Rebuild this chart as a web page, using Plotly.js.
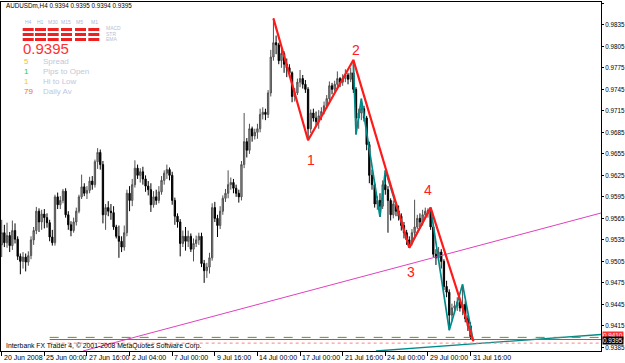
<!DOCTYPE html>
<html><head><meta charset="utf-8">
<script src="https://cdn.plot.ly/plotly-3.0.1.min.js"></script>
<style>html,body{margin:0;padding:0;background:#fff}#c{width:625px;height:363px}</style>
</head><body><div id="c"></div>
<script>
// ---- data ----
const openP = [0.9528,0.9545,0.9531,0.9541,0.9527,0.9548,0.9536,0.9512,0.9505,0.9511,0.9504,0.9513,0.9535,0.9548,0.9575,0.9560,0.9571,0.9566,0.9559,0.9539,
0.9531,0.9595,0.9584,0.9590,0.9603,0.9570,0.9556,0.9548,0.9560,0.9575,0.9595,0.9609,0.9600,0.9604,0.9617,0.9612,0.9644,0.9657,0.9640,0.9570,
0.9580,0.9575,0.9573,0.9553,0.9540,0.9533,0.9525,0.9545,0.9600,0.9590,0.9612,0.9635,0.9625,0.9630,0.9620,0.9610,0.9605,0.9584,0.9595,0.9590,
0.9602,0.9618,0.9628,0.9633,0.9625,0.9590,0.9568,0.9560,0.9530,0.9540,0.9533,0.9540,0.9522,0.9530,0.9535,0.9540,0.9502,0.9492,0.9497,0.9510,
0.9580,0.9565,0.9555,0.9575,0.9593,0.9600,0.9612,0.9615,0.9607,0.9600,0.9595,0.9640,0.9672,0.9660,0.9690,0.9680,0.9685,0.9690,0.9710,0.9713,
0.9710,0.9740,0.9790,0.9810,0.9807,0.9785,0.9795,0.9780,0.9775,0.9768,0.9735,0.9740,0.9755,0.9760,0.9752,0.9745,0.9690,0.9712,0.9705,0.9700,
0.9708,0.9714,0.9722,0.9732,0.9750,0.9745,0.9752,0.9760,0.9755,0.9760,0.9765,0.9759,0.9768,0.9745,0.9705,0.9712,0.9718,0.9705,0.9668,0.9625,
0.9612,0.9585,0.9590,0.9582,0.9612,0.9605,0.9590,0.9570,0.9585,0.9575,0.9568,0.9555,0.9545,0.9535,0.9530,0.9545,0.9553,0.9565,0.9560,0.9570,
0.9575,0.9576,0.9553,0.9515,0.9510,0.9518,0.9505,0.9470,0.9462,0.9430,0.9440,0.9443,0.9448,0.9440,0.9445,0.9425,0.9415,0.9394];
const highP = [0.9563,0.9556,0.9559,0.9546,0.9562,0.9558,0.9540,0.9516,0.9518,0.9516,0.9519,0.9540,0.9553,0.9581,0.9579,0.9577,0.9578,0.9572,0.9563,0.9549,
0.9598,0.9601,0.9596,0.9606,0.9607,0.9575,0.9561,0.9566,0.9580,0.9598,0.9626,0.9614,0.9610,0.9623,0.9624,0.9647,0.9663,0.9661,0.9645,0.9585,
0.9589,0.9585,0.9582,0.9556,0.9555,0.9540,0.9555,0.9605,0.9610,0.9620,0.9646,0.9640,0.9635,0.9637,0.9625,0.9617,0.9614,0.9603,0.9605,0.9610,
0.9624,0.9632,0.9640,0.9636,0.9630,0.9594,0.9572,0.9564,0.9548,0.9553,0.9548,0.9544,0.9537,0.9541,0.9545,0.9545,0.9507,0.9503,0.9517,0.9586,
0.9588,0.9570,0.9582,0.9597,0.9606,0.9632,0.9622,0.9620,0.9612,0.9605,0.9645,0.9712,0.9677,0.9697,0.9693,0.9690,0.9697,0.9718,0.9720,0.9718,
0.9744,0.9800,0.9844,0.9820,0.9810,0.9802,0.9798,0.9788,0.9780,0.9770,0.9747,0.9760,0.9772,0.9765,0.9758,0.9748,0.9717,0.9718,0.9714,0.9716,
0.9720,0.9728,0.9737,0.9756,0.9754,0.9757,0.9770,0.9762,0.9766,0.9773,0.9768,0.9775,0.9786,0.9748,0.9718,0.9732,0.9722,0.9708,0.9672,0.9633,
0.9615,0.9596,0.9600,0.9618,0.9632,0.9610,0.9593,0.9590,0.9588,0.9583,0.9572,0.9560,0.9549,0.9540,0.9550,0.9591,0.9570,0.9572,0.9577,0.9580,
0.9579,0.9580,0.9556,0.9522,0.9525,0.9522,0.9508,0.9478,0.9466,0.9446,0.9450,0.9455,0.9452,0.9473,0.9450,0.9430,0.9420,0.9395];
const lowP = [0.9511,0.9525,0.9524,0.9518,0.9521,0.9530,0.9507,0.9487,0.9495,0.9491,0.9499,0.9508,0.9528,0.9543,0.9546,0.9549,0.9551,0.9552,0.9533,0.9527,
0.9527,0.9578,0.9578,0.9586,0.9566,0.9549,0.9540,0.9545,0.9555,0.9572,0.9592,0.9596,0.9592,0.9600,0.9605,0.9608,0.9634,0.9633,0.9558,0.9549,
0.9568,0.9563,0.9549,0.9537,0.9510,0.9518,0.9520,0.9540,0.9575,0.9582,0.9608,0.9620,0.9615,0.9612,0.9602,0.9597,0.9574,0.9580,0.9584,0.9586,
0.9598,0.9612,0.9620,0.9618,0.9584,0.9556,0.9552,0.9512,0.9525,0.9520,0.9525,0.9518,0.9505,0.9525,0.9528,0.9497,0.9475,0.9482,0.9488,0.9506,
0.9560,0.9539,0.9550,0.9570,0.9588,0.9593,0.9605,0.9600,0.9595,0.9587,0.9590,0.9635,0.9650,0.9655,0.9672,0.9675,0.9676,0.9685,0.9703,0.9702,
0.9705,0.9735,0.9785,0.9794,0.9780,0.9775,0.9768,0.9762,0.9762,0.9727,0.9728,0.9737,0.9748,0.9746,0.9740,0.9674,0.9684,0.9700,0.9693,0.9690,
0.9702,0.9710,0.9718,0.9728,0.9738,0.9741,0.9745,0.9748,0.9750,0.9755,0.9752,0.9755,0.9740,0.9682,0.9690,0.9702,0.9700,0.9660,0.9614,0.9605,
0.9580,0.9577,0.9567,0.9578,0.9598,0.9545,0.9562,0.9565,0.9568,0.9562,0.9548,0.9537,0.9528,0.9524,0.9527,0.9540,0.9550,0.9553,0.9555,0.9565,
0.9566,0.9549,0.9511,0.9500,0.9505,0.9495,0.9465,0.9455,0.9409,0.9423,0.9432,0.9436,0.9435,0.9430,0.9420,0.9408,0.9396,0.9394];
const closeP = [0.9545,0.9531,0.9541,0.9527,0.9548,0.9536,0.9512,0.9505,0.9511,0.9504,0.9513,0.9535,0.9548,0.9575,0.9560,0.9571,0.9566,0.9559,0.9539,0.9531,
0.9595,0.9584,0.9590,0.9603,0.9570,0.9556,0.9548,0.9560,0.9575,0.9595,0.9609,0.9600,0.9604,0.9617,0.9612,0.9644,0.9657,0.9640,0.9570,0.9580,
0.9575,0.9573,0.9553,0.9540,0.9533,0.9525,0.9545,0.9600,0.9590,0.9612,0.9635,0.9625,0.9630,0.9620,0.9610,0.9605,0.9584,0.9595,0.9590,0.9602,
0.9618,0.9628,0.9633,0.9625,0.9590,0.9568,0.9560,0.9530,0.9540,0.9533,0.9540,0.9522,0.9530,0.9535,0.9540,0.9502,0.9492,0.9497,0.9510,0.9580,
0.9565,0.9555,0.9575,0.9593,0.9600,0.9612,0.9615,0.9607,0.9600,0.9595,0.9640,0.9672,0.9660,0.9690,0.9680,0.9685,0.9690,0.9710,0.9713,0.9710,
0.9740,0.9790,0.9810,0.9807,0.9785,0.9795,0.9780,0.9775,0.9768,0.9735,0.9740,0.9755,0.9760,0.9752,0.9745,0.9690,0.9712,0.9705,0.9700,0.9708,
0.9714,0.9722,0.9732,0.9750,0.9745,0.9752,0.9760,0.9755,0.9760,0.9765,0.9759,0.9768,0.9745,0.9705,0.9712,0.9718,0.9705,0.9668,0.9625,0.9612,
0.9585,0.9590,0.9582,0.9612,0.9605,0.9590,0.9570,0.9585,0.9575,0.9568,0.9555,0.9545,0.9535,0.9530,0.9545,0.9553,0.9565,0.9560,0.9570,0.9575,
0.9576,0.9553,0.9515,0.9510,0.9518,0.9505,0.9470,0.9462,0.9430,0.9440,0.9443,0.9448,0.9440,0.9445,0.9425,0.9415,0.9400,0.9395];

const redZZx = [102,115,132,153,161,177];
const redZZy = [0.9844,0.9674,0.9786,0.9524,0.9580,0.9394];
const tealZZx = [132,133,135,142,144,153,161,168,173,177];
const tealZZy = [0.9786,0.9682,0.9732,0.9567,0.9632,0.9524,0.9580,0.9409,0.9473,0.9394];
const waveLabels = ['1','2','3','4'];
const waveX = [116.1,133.0,153.6,160.0];
const waveY = [0.9646,0.9800,0.9490,0.9605];

const pinkLineX = [30.5,225];
const pinkLineY = [0.9380,0.95725];
const tealTrendX = [140.5,225];
const tealTrendY = [0.9380,0.9403];

const levelGreen = 0.9399, levelRed = 0.9396, levelDot = 0.9391;
const levelStartIdx = 18;

const yTicks = [0.9865,0.9835,0.9805,0.9775,0.9745,0.9715,0.9685,0.9655,0.9625,0.9595,0.9565,0.9535,0.9505,0.9475,0.9445,0.9415,0.9385];
const dateLabels = ['20 Jun 2008','25 Jun 00:00','27 Jun 16:00','2 Jul 04:00','7 Jul 00:00','9 Jul 16:00','14 Jul 00:00','17 Jul 00:00','21 Jul 16:00','24 Jul 00:00','29 Jul 00:00','31 Jul 16:00'];
const dateIdx = [0,16,32,48,64,80,96,112,128,144,160,176];

const symbolHeader = 'AUDUSDm,H4 0.9394 0.9395 0.9394 0.9395';
const bidPrice = '0.9395';
const askLabel = '0.9410';
const askLevel = 0.9402;
const tfLabels = ['H4','H1','M30','M15','M5','M1'];
const indLabels = ['MACD','STR','EMA'];
const infoVals = ['5','1','1','79'];
const infoNames = ['Spread','Pips to Open','Hi to Low','Daily Av'];
const infoColors = ['#f0c419','#1ed21e','#f0d000','#f06a2a'];

// ---- build ----
const barIdx = openP.map((_, i) => i);
const FONT = 'Liberation Sans, Arial, sans-serif';
const W = 625, H = 363, ML = 1, MR = 24, MT = 2, MB = 12;
const pw = W - ML - MR, ph = H - MT - MB;
const px = x => (x - ML) / pw;
const py = y => (H - MB - y) / ph;

const traces = [
  {type:'scatter', mode:'lines', x:pinkLineX, y:pinkLineY, line:{color:'#e040c0', width:1}, hoverinfo:'skip'},
  {type:'scatter', mode:'lines', x:tealTrendX, y:tealTrendY, line:{color:'#008b8b', width:1.3}, hoverinfo:'skip'},
  {type:'scatter', mode:'lines', x:[levelStartIdx,225], y:[levelGreen,levelGreen], line:{color:'#6b8e23', width:1, dash:'dash'}, hoverinfo:'skip'},
  {type:'scatter', mode:'lines', x:[levelStartIdx,225], y:[levelRed,levelRed], line:{color:'#ff3030', width:1}, hoverinfo:'skip'},
  {type:'scatter', mode:'lines', x:[levelStartIdx,225], y:[levelDot,levelDot], line:{color:'#ff8080', width:1, dash:'dot'}, hoverinfo:'skip'},
  {type:'candlestick', x:barIdx, open:openP, high:highP, low:lowP, close:closeP,
   increasing:{line:{color:'#505050', width:1}, fillcolor:'#999999'},
   decreasing:{line:{color:'#000000', width:1}, fillcolor:'#000000'},
   whiskerwidth:0, hoverinfo:'skip'},
  {type:'scatter', mode:'lines', x:tealZZx, y:tealZZy, line:{color:'#008b8b', width:1.7}, hoverinfo:'skip'},
  {type:'scatter', mode:'lines', x:redZZx, y:redZZy, line:{color:'#ff1a1a', width:2.2}, hoverinfo:'skip'}
];

const ann = [];
dateLabels.forEach((t, k) => ann.push({x:dateIdx[k], y:0, xref:'x', yref:'paper', text:t, showarrow:false,
  xanchor:'left', yanchor:'top', xshift:0, yshift:-1, font:{family:FONT, size:7, color:'#000'}}));
waveLabels.forEach((t, k) => ann.push({x:waveX[k], y:waveY[k], xref:'x', yref:'y', text:t, showarrow:false,
  font:{family:FONT, size:14, color:'#ff2020'}}));
ann.push({x:px(4), y:py(6), xref:'paper', yref:'paper', text:symbolHeader, showarrow:false, xanchor:'left', yanchor:'middle', font:{family:FONT, size:6.3, color:'#000'}});
ann.push({x:px(4), y:py(346), xref:'paper', yref:'paper', text:'Interbank FX Trader 4, \u00a9 2001-2008 MetaQuotes Software Corp.', showarrow:false, xanchor:'left', yanchor:'middle', font:{family:FONT, size:6.8, color:'#000'}});
const colX = [28, 40, 53, 66, 80, 94];
tfLabels.forEach((t, k) => ann.push({x:px(colX[k]), y:py(22), xref:'paper', yref:'paper', text:t, showarrow:false, xanchor:'center', yanchor:'middle', font:{family:FONT, size:5, color:'#a8b8d8'}}));
indLabels.forEach((t, k) => ann.push({x:px(104), y:py(28 + k*5.5), xref:'paper', yref:'paper', text:t, showarrow:false, xanchor:'left', yanchor:'middle', font:{family:FONT, size:5, color:'#b8c0d4'}}));
ann.push({x:px(21), y:py(49), xref:'paper', yref:'paper', text:bidPrice, showarrow:false, xanchor:'left', yanchor:'middle', font:{family:FONT, size:15, color:'#ff3030'}});
infoVals.forEach((t, k) => {
  ann.push({x:px(22), y:py(61 + k*10), xref:'paper', yref:'paper', text:t, showarrow:false, xanchor:'left', yanchor:'middle', font:{family:FONT, size:8, color:infoColors[k]}});
  ann.push({x:px(41), y:py(61 + k*10), xref:'paper', yref:'paper', text:infoNames[k], showarrow:false, xanchor:'left', yanchor:'middle', font:{family:FONT, size:8, color:'#c0c8dc'}});
});
ann.push({x:1, y:askLevel, xref:'paper', yref:'y', text:askLabel, showarrow:false, xanchor:'left', yanchor:'middle', xshift:1, bgcolor:'#ff3030', font:{family:FONT, size:6.3, color:'#fff'}, borderpad:0});
ann.push({x:1, y:0.9395, xref:'paper', yref:'y', text:bidPrice, showarrow:false, xanchor:'left', yanchor:'middle', xshift:1, bgcolor:'#000', font:{family:FONT, size:6.3, color:'#fff'}, borderpad:0});

const shapes = [];
const blockX = [22.7, 35, 47.7, 61, 75, 88.3];
blockX.forEach(bx => { [28, 33, 38].forEach(by => {
  shapes.push({type:'rect', xref:'paper', yref:'paper', x0:px(bx), x1:px(bx+11), y0:py(by+3), y1:py(by), line:{width:0}, fillcolor:'#f02020'});
});});

const layout = {
  width:W, height:H, margin:{l:ML, r:MR, t:MT, b:MB}, paper_bgcolor:'#fff', plot_bgcolor:'#fff',
  showlegend:false, dragmode:false,
  xaxis:{range:[-0.263, 224.96], showgrid:false, zeroline:false, showline:true, mirror:true, linecolor:'#000', linewidth:1,
    ticks:'outside', ticklen:4, tickcolor:'#000', tickvals:dateIdx, showticklabels:false, rangeslider:{visible:false}, fixedrange:true},
  yaxis:{side:'right', range:[0.9380, 0.98668], showgrid:false, zeroline:false, showline:true, mirror:true, linecolor:'#000', linewidth:1,
    ticks:'outside', ticklen:2, tickcolor:'#000', tickvals:yTicks, ticktext:yTicks.map(v => v.toFixed(4)),
    tickfont:{family:FONT, size:6.3, color:'#000'}, fixedrange:true},
  annotations:ann, shapes:shapes
};
Plotly.newPlot('c', traces, layout, {staticPlot:true, displayModeBar:false});
</script></body></html>
